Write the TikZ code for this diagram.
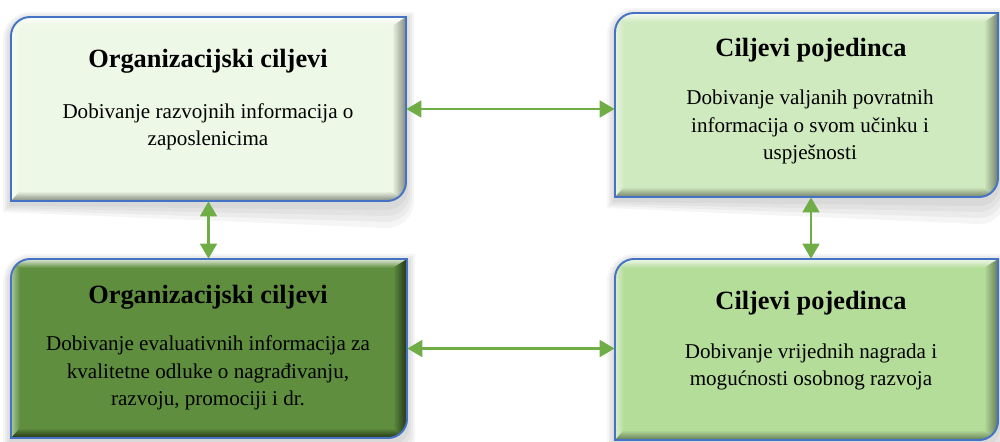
\documentclass[tikz,border=0pt]{standalone}
\usepackage{fontspec}
\setmainfont{Liberation Serif}
\usetikzlibrary{arrows.meta,fit}
\definecolor{bordc}{HTML}{4472C4}
\definecolor{arrc}{HTML}{70AD47}
\definecolor{fillA}{HTML}{EEF8E6}
\definecolor{fillB}{HTML}{D0EAC0}
\definecolor{fillC}{HTML}{5F8F3E}
\definecolor{fillD}{HTML}{B5DD9A}
\newcommand\rdpath[5]{(#1,#4) -- (#1,#2+#5) arc[start angle=180,end angle=90,radius={(#5)*0.02cm}] -- (#3,#2) -- (#3,#4-#5) arc[start angle=0,end angle=-90,radius={(#5)*0.02cm}] -- cycle}
\newcommand\gbox[6]{%
  \foreach \e in {2,4,6,8}{\fill[black,opacity=0.04] \rdpath{#1-\e}{#2-\e+3}{#3+\e}{#4+\e+3}{19+\e};}
  \begin{scope}
    \clip \rdpath{#1}{#2}{#3}{#4}{19};
    \fill[#5] (#1,#2) rectangle (#3,#4);
    \shade[top color=white, bottom color=#5, opacity=0.8] (#1,#2) -- (#3,#2) -- (#3-14,#2+9) -- (#1+9,#2+9) -- cycle;
    \shade[left color=white, right color=#5, opacity=0.5] (#1,#2) -- (#1+9,#2+9) -- (#1+9,#4-10) -- (#1,#4) -- cycle;
    \shade[top color=#5, bottom color=#6] (#1,#4) -- (#3,#4) -- (#3-14,#4-10) -- (#1+9,#4-10) -- cycle;
    \shade[left color=#5, right color=#6] (#3-14,#2+9) -- (#3,#2) -- (#3,#4) -- (#3-14,#4-10) -- cycle;
  \end{scope}
  \draw[bordc, line width=1.1pt] \rdpath{#1}{#2}{#3}{#4}{19};
}
\tikzset{
  frame/.style={inner sep=0pt, draw=none},
  ttl/.style={font=\bfseries\fontsize{15}{18}\selectfont, text=black, inner sep=0pt},
  body/.style={font=\fontsize{12}{15.6}\selectfont, align=center, text=black, inner sep=0pt},
  conn/.style={arrc, line width=1.4pt, {Triangle[length=8.5pt,width=9.5pt]}-{Triangle[length=8.5pt,width=9.5pt]}}
}
\begin{document}
\begin{tikzpicture}[x=0.02cm,y=-0.02cm]
\useasboundingbox (0,0) rectangle (1000,441);
\gbox{11}{17}{406}{201}{fillA}{fillA!55!black}
\gbox{615}{13}{998}{197}{fillB}{fillB!55!black}
\gbox{11}{259}{407}{438}{fillC}{fillC!35!black}
\gbox{615}{259}{998}{440}{fillD}{fillD!55!black}
\node[frame, fit={(11,17)(406,201)}] (b1) {};
\node[frame, fit={(615,13)(998,197)}] (b2) {};
\node[frame, fit={(11,259)(407,438)}] (b3) {};
\node[frame, fit={(615,259)(998,440)}] (b4) {};
\node[ttl] (t1) at (208,61) {Organizacijski ciljevi};
\node[body] (d1) at (208,127) {Dobivanje razvojnih informacija o\\zaposlenicima};
\node[ttl] (t2) at (811,50) {Ciljevi pojedinca};
\node[body] (d2) at (810,127) {Dobivanje valjanih povratnih\\informacija o svom učinku i\\uspješnosti};
\node[ttl] (t3) at (208,297) {Organizacijski ciljevi};
\node[body] (d3) at (208,373) {Dobivanje evaluativnih informacija za\\kvalitetne odluke o nagrađivanju,\\razvoju, promociji i dr.};
\node[ttl] (t4) at (811,303) {Ciljevi pojedinca};
\node[body] (d4) at (811,367) {Dobivanje vrijednih nagrada i\\mogućnosti osobnog razvoja};
\draw[conn] (b1.east) -- (b1.east -| b2.west);
\draw[conn] (b3.east) -- (b3.east -| b4.west);
\draw[conn] (b1.south) -- (b1.south |- b3.north);
\draw[conn] ([xshift=0.09cm]b2.south) -- ([xshift=0.09cm]b2.south |- b4.north);
\end{tikzpicture}
\end{document}
